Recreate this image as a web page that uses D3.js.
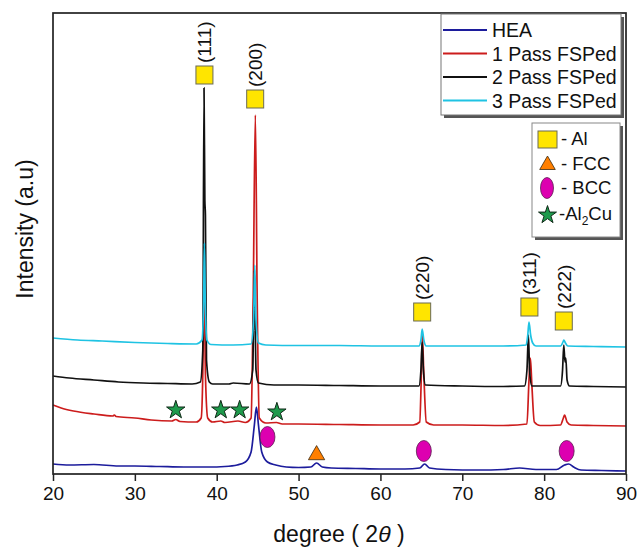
<!DOCTYPE html>
<html>
<head>
<meta charset="UTF-8">
<script src="https://d3js.org/d3.v7.min.js"></script>
<style>
  body { margin: 0; background: #fff; }
  text { font-family: "Liberation Sans", Arial, sans-serif; fill: #111; }
</style>
</head>
<body>
<svg width="638" height="549"></svg>
<script>
// [2theta, intensity a.u.]
const hea = [[20,10],[22,9],[25,9.5],[28,8],[30,8],[33,7.5],[36,7],[39,7],[41,7.5],[42.5,9],[43.5,12],[44.2,22],[44.6,49],[44.85,67],[45.1,49],[45.5,22],[46.2,12],[47.2,9],[48.5,7],[50,6.5],[51.5,7],[52.2,11],[52.9,7],[54,6],[57,5.5],[60,5],[63,5],[64.8,6],[65.4,10],[66,6],[68,4.5],[72,4],[75,4.5],[77,6],[79,4.5],[81.5,4.5],[82.5,9],[83,10],[83.6,7],[84.5,4],[87,3.5],[90,3]];
const pass1 = [[20,69],[21,66],[22.5,63],[25,60],[27.3,58],[27.5,59],[27.7,57.5],[30,56],[32,54],[34.5,53],[35,54.5],[35.5,52.5],[37.5,52],[38.1,56],[38.3,100],[38.45,200],[38.62,100],[38.9,56],[39.5,52],[40.5,53],[41,51.5],[42.6,53],[43.5,51.5],[44.2,56],[44.45,170],[44.72,359],[44.95,170],[45.2,56],[46,51],[47.3,51.5],[48,50],[50,50],[55,49.5],[60,49],[64,49],[64.8,52],[65,100],[65.12,139],[65.3,100],[65.6,52],[66.5,49],[70,49],[75,48.5],[77.9,50],[78.15,94],[78.32,116],[78.5,89],[78.8,52],[79.5,48.5],[82,49],[82.35,56],[82.5,59],[82.8,52],[83.3,49],[86,48.5],[90,48]];
const pass2 = [[20,98],[22,96],[25,94],[28,92],[31,91],[34,90.5],[37,90],[38,92],[38.3,124],[38.45,386],[38.55,274],[38.62,259],[38.75,114],[39.1,92],[39.5,90],[41.5,90],[42,91],[44,90],[44.4,104],[44.6,204],[44.8,104],[45.1,91],[47,89],[50,89],[55,88.5],[60,88],[64.7,88],[64.95,104],[65.1,132],[65.25,104],[65.5,89],[70,88],[75,87.5],[77.6,88],[77.9,104],[78.08,139],[78.22,104],[78.5,88],[82,88],[82.25,104],[82.4,129],[82.55,112],[82.65,116],[82.8,94],[83.1,88],[86,87.5],[90,87]];
const pass3 = [[20,136],[23,134],[26,133],[30,131.5],[34,130.5],[37.5,130],[38.2,134],[38.4,174],[38.5,231],[38.6,174],[38.8,134],[39.3,129.5],[42,129],[44.2,130],[44.5,154],[44.65,209],[44.8,154],[45.1,131],[46,129],[50,128.5],[55,128.5],[60,128],[64.7,128],[64.95,134],[65.1,145],[65.3,134],[65.6,128],[70,128],[75,128],[77.8,129],[78,139],[78.15,152],[78.35,139],[78.6,131],[79,128],[82,128],[82.3,132],[82.4,134],[82.6,131],[82.9,128],[86,127.5],[90,127]];

const seriesNames = ["HEA", "1 Pass FSPed", "2 Pass FSPed", "3 Pass FSPed"];
const seriesColors = ["#1c1c9c", "#cc1c1c", "#111111", "#1fc3e3"];
const seriesData = [hea, pass1, pass2, pass3];

const xTicks = [20, 30, 40, 50, 60, 70, 80, 90];

// phase markers [2theta, intensity]
const alPeaks = [["(111)", 38.5, 399], ["(200)", 44.7, 375], ["(220)", 65.1, 162], ["(311)", 78.2, 167], ["(222)", 82.4, 153]];
const bccPeaks = [[46.2, 37], [65.3, 23], [82.75, 23]];
const fccPeaks = [[52.2, 19]];
const al2cuPeaks = [[35.0, 64], [40.5, 64], [42.8, 64], [47.35, 62]];

const svg = d3.select("svg");
const L = 53, R = 626, T = 13, B = 474;
const x = d3.scaleLinear().domain([20, 90]).range([L, R]);
const y = d3.scaleLinear().domain([0, 461]).range([B, T]);

const line = d3.line().x(d => x(d[0])).y(d => y(d[1])).curve(d3.curveMonotoneX);

seriesData.forEach((s, i) => {
  svg.append("path")
    .attr("d", line(s))
    .attr("fill", "none")
    .attr("stroke", seriesColors[i])
    .attr("stroke-width", 1.7);
});

// frame
svg.append("rect").attr("x", L).attr("y", T).attr("width", R - L).attr("height", B - T)
  .attr("fill", "none").attr("stroke", "#222").attr("stroke-width", 1.7);

const xAxis = svg.append("g").attr("transform", `translate(0,${B})`)
  .call(d3.axisBottom(x).tickValues(xTicks).tickSize(7).tickPadding(6));
xAxis.select(".domain").remove();
xAxis.selectAll("line").attr("stroke", "#222").attr("stroke-width", 1.5);
xAxis.selectAll("text").attr("font-size", 19).attr("font-family", "Liberation Sans, Arial, sans-serif").attr("fill", "#111");

svg.append("text").attr("x", 339).attr("y", 542).attr("text-anchor", "middle").attr("font-size", 23)
  .call(t => {
    t.append("tspan").text("degree ( 2");
    t.append("tspan").attr("font-style", "italic").text("θ");
    t.append("tspan").text(" )");
  });
svg.append("text").attr("transform", "translate(33,229) rotate(-90)").attr("text-anchor", "middle")
  .attr("font-size", 23).text("Intensity (a.u)");

// markers
const sq = 17;
svg.selectAll(".al").data(alPeaks).enter().append("rect")
  .attr("x", d => x(d[1]) - sq / 2).attr("y", d => y(d[2]) - 9)
  .attr("width", sq).attr("height", 18)
  .attr("fill", "#ffe500").attr("stroke", "#6b6b55").attr("stroke-width", 1);
svg.selectAll(".hkl").data(alPeaks).enter().append("text")
  .attr("transform", d => `translate(${x(d[1]) + 7},${y(d[2]) - 12}) rotate(-90)`)
  .attr("font-size", 19).text(d => d[0]);

svg.selectAll(".bcc").data(bccPeaks).enter().append("ellipse")
  .attr("cx", d => x(d[0])).attr("cy", d => y(d[1])).attr("rx", 7.5).attr("ry", 10.5)
  .attr("fill", "#dd00b0").attr("stroke", "#5a2050").attr("stroke-width", 0.8);

svg.selectAll(".fcc").data(fccPeaks).enter().append("path")
  .attr("d", d3.symbol(d3.symbolTriangle).size(115))
  .attr("transform", d => `translate(${x(d[0])},${y(d[1])})`)
  .attr("fill", "#ff7f00").attr("stroke", "#3a2a10").attr("stroke-width", 0.8);

svg.selectAll(".star").data(al2cuPeaks).enter().append("path")
  .attr("d", d3.symbol(d3.symbolStar).size(105))
  .attr("transform", d => `translate(${x(d[0])},${y(d[1])})`)
  .attr("fill", "#1e9a4c").attr("stroke", "#102a18").attr("stroke-width", 1);

// series legend
const lg = svg.append("g");
lg.append("rect").attr("x", 444).attr("y", 17).attr("width", 180).attr("height", 101).attr("fill", "#555");
lg.append("rect").attr("x", 441).attr("y", 14).attr("width", 180).attr("height", 101)
  .attr("fill", "#fff").attr("stroke", "#777").attr("stroke-width", 1);
seriesNames.forEach((n, i) => {
  const yy = 30 + i * 23.5;
  lg.append("line").attr("x1", 443).attr("x2", 487).attr("y1", yy).attr("y2", yy)
    .attr("stroke", seriesColors[i]).attr("stroke-width", 2);
  lg.append("text").attr("x", 492).attr("y", yy + 7).attr("font-size", 19.5).text(n);
});

// phase legend
const pg = svg.append("g");
pg.append("rect").attr("x", 535).attr("y", 126).attr("width", 88).attr("height", 114).attr("fill", "#555");
pg.append("rect").attr("x", 532).attr("y", 123).attr("width", 88).attr("height", 114)
  .attr("fill", "#fff").attr("stroke", "#888").attr("stroke-width", 1);
pg.append("rect").attr("x", 538).attr("y", 131).attr("width", 19).attr("height", 17)
  .attr("fill", "#ffe500").attr("stroke", "#6b6b55");
pg.append("text").attr("x", 561).attr("y", 145).attr("font-size", 18.5).text("- Al");
pg.append("path").attr("d", d3.symbol(d3.symbolTriangle).size(105))
  .attr("transform", "translate(547.5,165)").attr("fill", "#ff7f00").attr("stroke", "#3a2a10").attr("stroke-width", 0.8);
pg.append("text").attr("x", 561).attr("y", 170).attr("font-size", 18.5).text("- FCC");
pg.append("ellipse").attr("cx", 547).attr("cy", 188).attr("rx", 6.5).attr("ry", 10.5)
  .attr("fill", "#dd00b0").attr("stroke", "#5a2050").attr("stroke-width", 0.8);
pg.append("text").attr("x", 561).attr("y", 194).attr("font-size", 18.5).text("- BCC");
pg.append("path").attr("d", d3.symbol(d3.symbolStar).size(100))
  .attr("transform", "translate(547.5,215)").attr("fill", "#1e9a4c").attr("stroke", "#102a18").attr("stroke-width", 1);
pg.append("text").attr("x", 559).attr("y", 220).attr("font-size", 18.5)
  .call(t => {
    t.append("tspan").text("-Al");
    t.append("tspan").attr("font-size", 12).attr("dy", 5).text("2");
    t.append("tspan").attr("dy", -5).text("Cu");
  });
</script>
</body>
</html>
